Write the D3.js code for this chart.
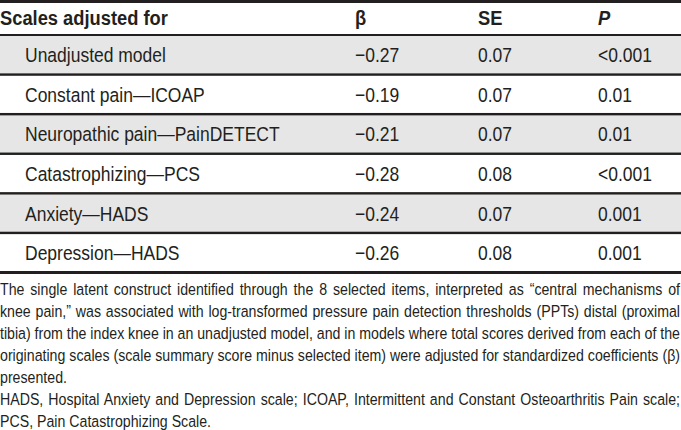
<!DOCTYPE html>
<html>
<head>
<meta charset="utf-8">
<script src="https://cdn.jsdelivr.net/npm/d3@7"></script>
<style>
  html, body { margin: 0; padding: 0; background: #fff; }
  svg { display: block; }
  text { font-family: "Liberation Sans", Arial, sans-serif; fill: #231f20; }
</style>
</head>
<body>
<svg id="chart" width="681" height="430"></svg>
<script>
// ---- data ----
const headers = ["Scales adjusted for", "β", "SE", "P"];
const labels = [
  "Unadjusted model",
  "Constant pain—ICOAP",
  "Neuropathic pain—PainDETECT",
  "Catastrophizing—PCS",
  "Anxiety—HADS",
  "Depression—HADS"
];
const beta = [-0.27, -0.19, -0.21, -0.28, -0.24, -0.26];
const se = [0.07, 0.07, 0.07, 0.08, 0.07, 0.08];
const pValues = ["<0.001", "0.01", "0.01", "<0.001", "0.001", "0.001"];
const footnoteLines = [
  "The single latent construct identified through the 8 selected items, interpreted as “central mechanisms of",
  "knee pain,” was associated with log-transformed pressure pain detection thresholds (PPTs) distal (proximal",
  "tibia) from the index knee in an unadjusted model, and in models where total scores derived from each of the",
  "originating scales (scale summary score minus selected item) were adjusted for standardized coefficients (β)",
  "presented.",
  "HADS, Hospital Anxiety and Depression scale; ICOAP, Intermittent and Constant Osteoarthritis Pain scale;",
  "PCS, Pain Catastrophizing Scale."
];
const justified = [true, true, true, true, false, true, false];

// ---- layout ----
const W = 681;
const svg = d3.select("#chart");
const lineColor = "#231f20";
const shade = "#e6e6e6";

const y = d3.scaleBand().domain(d3.range(labels.length)).range([35, 272.5]);
const colX = d3.scaleOrdinal().domain(["label", "beta", "se", "p"]).range([25, 355, 478, 598]);
const fmt = v => (v < 0 ? "\u2212" : "") + d3.format(".2f")(Math.abs(v));

// measure helper for condensed look
function measure(txt, size, weight) {
  const t = svg.append("text").attr("font-size", size).attr("font-weight", weight || "normal").text(txt);
  const w = t.node().getComputedTextLength();
  t.remove();
  return w;
}

// row backgrounds
svg.selectAll("rect.row").data(labels).join("rect")
  .attr("class", "row")
  .attr("x", 0).attr("width", W)
  .attr("y", (d, i) => y(i)).attr("height", y.bandwidth())
  .attr("fill", (d, i) => i % 2 === 0 ? shade : "#fff");

// lines
svg.append("rect").attr("x", 0).attr("y", 0).attr("width", W).attr("height", 3).attr("fill", lineColor);
svg.append("rect").attr("x", 0).attr("y", 34).attr("width", W).attr("height", 2).attr("fill", lineColor);
svg.selectAll("rect.sep").data(d3.range(1, labels.length)).join("rect")
  .attr("class", "sep")
  .attr("x", 0).attr("width", W)
  .attr("y", i => y(i) - 1.2).attr("height", 2.4)
  .attr("fill", lineColor);
svg.append("rect").attr("x", 0).attr("y", y.range()[1] - 1.5).attr("width", W).attr("height", 3).attr("fill", lineColor);

// header
const headSize = 19.5;
const sH = 168 / measure(headers[0], headSize, "bold");
const hx = [0, colX("beta"), colX("se"), colX("p")];
svg.append("g").attr("transform", `scale(${sH},1)`)
  .selectAll("text.head").data(headers).join("text")
  .attr("class", "head")
  .attr("x", (d, i) => hx[i] / sH).attr("y", 25)
  .attr("font-size", headSize).attr("font-weight", "bold")
  .attr("font-style", (d, i) => i === 3 ? "italic" : "normal")
  .text(d => d);

// body cells
const bodySize = 20.5;
const sB = 141 / measure(labels[0], bodySize);
const rows = labels.map((l, i) => ({ l, b: fmt(beta[i]), s: d3.format(".2f")(se[i]), p: pValues[i], i }));
const body = svg.append("g").attr("transform", `scale(${sB},1)`);
const g = body.selectAll("g.r").data(rows).join("g").attr("class", "r")
  .attr("transform", d => `translate(0,${y(d.i) + y.bandwidth() / 2 + 7.4})`);
g.append("text").attr("x", colX("label") / sB).attr("font-size", bodySize).attr("fill", "#333").text(d => d.l);
g.append("text").attr("x", colX("beta") / sB).attr("font-size", bodySize).attr("fill", "#333").text(d => d.b);
g.append("text").attr("x", colX("se") / sB).attr("font-size", bodySize).attr("fill", "#333").text(d => d.s);
g.append("text").attr("x", colX("p") / sB).attr("font-size", bodySize).attr("fill", "#333").text(d => d.p);

// footnotes
const fnSize = 17.2;
const sF = 211 / measure(footnoteLines[6], fnSize);
const fnG = svg.append("g").attr("transform", `scale(${sF},1)`);
const fn = fnG.selectAll("text.fn").data(footnoteLines).join("text")
  .attr("class", "fn")
  .attr("x", 0).attr("y", (d, i) => 295 + i * 22)
  .attr("font-size", fnSize)
  .attr("fill", "#333")
  .text(d => d);
fn.each(function(d, i) {
  if (!justified[i]) return;
  const nat = this.getComputedTextLength();
  const spaces = (d.match(/ /g) || []).length;
  const ws = (680 / sF - nat) / spaces;
  d3.select(this).attr("word-spacing", ws);
});
</script>
</body>
</html>
